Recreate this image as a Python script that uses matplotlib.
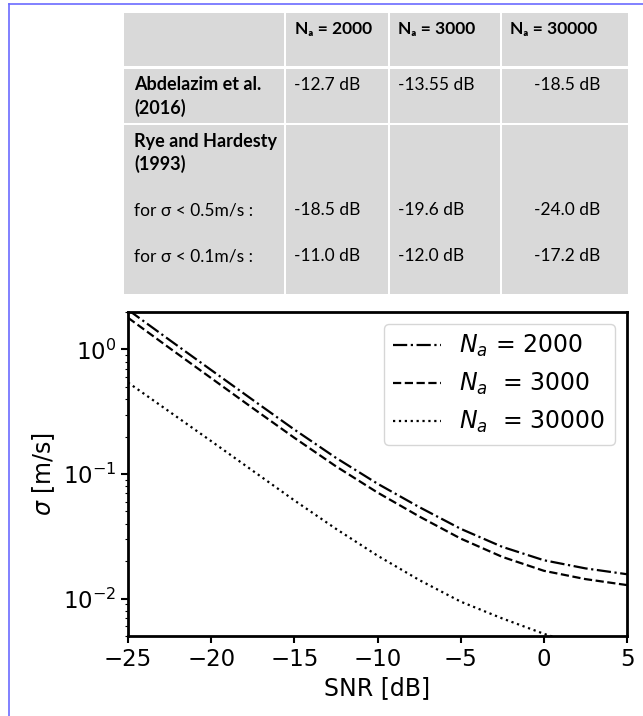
import numpy as np
import matplotlib.pyplot as plt
from matplotlib.patches import Rectangle

# threshold SNR table
col_labels = ['N\u2090 = 2000', 'N\u2090 = 3000', 'N\u2090 = 30000']
abdelazim = ['-12.7 dB', '-13.55 dB', '-18.5 dB']
rye_05 = ['-18.5 dB', '-19.6 dB', '-24.0 dB']
rye_01 = ['-11.0 dB', '-12.0 dB', '-17.2 dB']

# velocity std vs SNR
snr = [-25, -22.5, -20, -17.5, -15, -12.5, -10, -7.5, -5, -2.5, 0, 2.5, 5]
sigma_2000 = [2.084, 1.191, 0.684, 0.3936, 0.2275, 0.1349, 0.0836, 0.0543,
              0.0363, 0.0260, 0.0203, 0.01746, 0.01567]
sigma_3000 = [1.799, 1.026, 0.589, 0.338, 0.1954, 0.1153, 0.0710, 0.0457,
              0.0303, 0.0216, 0.0167, 0.01432, 0.01282]
sigma_30000 = [0.543, 0.316, 0.1837, 0.1062, 0.0614, 0.0363, 0.0221, 0.0141,
               0.00944, 0.00692, 0.00521, 0.00407, 0.00331]

W, H = 643, 716
fig = plt.figure(figsize=(W / 100, H / 100), dpi=100)

# background layer in pixel units for the frame and the table
bg = fig.add_axes([0, 0, 1, 1])
bg.set_xlim(0, W)
bg.set_ylim(H, 0)
bg.axis('off')

border = '#6b6bff'
bg.plot([8.5, W], [3.5, 3.5], color=border, lw=1.2)
bg.plot([8.5, 8.5], [3.5, H], color=border, lw=1.2)

grey = '#d9d9d9'
col_x = [124, 285, 389, 501, 628]
row_y = [(13, 66), (69, 123), (125, 294)]
for y0, y1 in row_y:
    for i in range(4):
        x0 = col_x[i] + (0 if i == 0 else 1)
        x1 = col_x[i + 1] - 1 if i < 3 else col_x[i + 1]
        bg.add_patch(Rectangle((x0, y0), x1 - x0, y1 - y0, facecolor=grey,
                               edgecolor='none'))

tfont = ['Lato', 'DejaVu Sans']
bsize = 13
rsize = 12.5
val_x = [294, 398, 534]
head_x = [295, 398, 510]
for hx, lab in zip(head_x, col_labels):
    bg.text(hx, 29, lab, family=tfont, fontsize=rsize, weight='bold', va='center')

bg.text(134, 85, 'Abdelazim et al.', family=tfont, fontsize=bsize, weight='bold', va='center')
bg.text(134, 108, '(2016)', family=tfont, fontsize=bsize, weight='bold', va='center')
bg.text(134, 141, 'Rye and Hardesty', family=tfont, fontsize=bsize, weight='bold', va='center')
bg.text(134, 164, '(1993)', family=tfont, fontsize=bsize, weight='bold', va='center')
bg.text(134, 210, 'for \u03c3 < 0.5m/s :', family=tfont, fontsize=rsize, va='center')
bg.text(134, 256, 'for \u03c3 < 0.1m/s :', family=tfont, fontsize=rsize, va='center')

for vx, a, b, c in zip(val_x, abdelazim, rye_05, rye_01):
    bg.text(vx, 85, a, family=tfont, fontsize=rsize, va='center')
    bg.text(vx, 210, b, family=tfont, fontsize=rsize, va='center')
    bg.text(vx, 256, c, family=tfont, fontsize=rsize, va='center')

# sigma vs SNR plot
ax = fig.add_axes([128 / W, 1 - 636 / H, 499 / W, 324 / H])
ax.semilogy(snr, sigma_2000, 'k-.', lw=1.6, label='$N_a$ = 2000')
ax.semilogy(snr, sigma_3000, 'k--', lw=1.6, label='$N_a$  = 3000')
ax.semilogy(snr, sigma_30000, 'k:', lw=1.6, label='$N_a$  = 30000')
ax.set_xlim(-25, 5)
ax.set_ylim(0.005, 2.0)
ax.set_xticks([-25, -20, -15, -10, -5, 0, 5])
ax.tick_params(labelsize=16.5, width=1.5, length=5)
ax.tick_params(which='minor', width=0.8, length=2.5)
for s in ax.spines.values():
    s.set_linewidth(2)
ax.set_xlabel('SNR [dB]', fontsize=17)
ax.set_ylabel('$\\sigma$ [m/s]', fontsize=17)
ax.legend(loc='upper right', fontsize=17, handlelength=2.0)

fig.savefig('out.png', dpi=100)
